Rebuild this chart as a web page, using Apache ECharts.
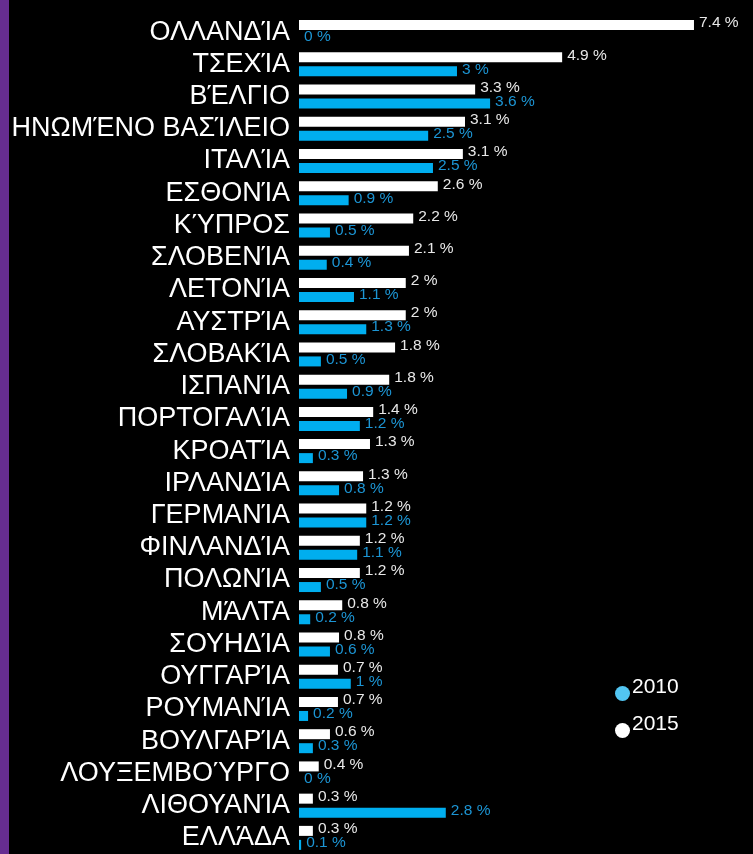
<!DOCTYPE html>
<html><head><meta charset="utf-8">
<script src="https://cdn.jsdelivr.net/npm/echarts@6/dist/echarts.min.js"></script>
<style>
html,body{margin:0;padding:0;background:#000;}
#strip{position:absolute;left:0;top:0;width:9px;height:854px;background:#662d91;z-index:2;}
#c{width:753px;height:854px;}
</style></head>
<body><div id="strip"></div><div id="c"></div>
<script>
const categories = ['ΟΛΛΑΝΔΊΑ','ΤΣΕΧΊΑ','ΒΈΛΓΙΟ','ΗΝΩΜΈΝΟ ΒΑΣΊΛΕΙΟ','ΙΤΑΛΊΑ','ΕΣΘΟΝΊΑ','ΚΎΠΡΟΣ','ΣΛΟΒΕΝΊΑ','ΛΕΤΟΝΊΑ','ΑΥΣΤΡΊΑ','ΣΛΟΒΑΚΊΑ','ΙΣΠΑΝΊΑ','ΠΟΡΤΟΓΑΛΊΑ','ΚΡΟΑΤΊΑ','ΙΡΛΑΝΔΊΑ','ΓΕΡΜΑΝΊΑ','ΦΙΝΛΑΝΔΊΑ','ΠΟΛΩΝΊΑ','ΜΆΛΤΑ','ΣΟΥΗΔΊΑ','ΟΥΓΓΑΡΊΑ','ΡΟΥΜΑΝΊΑ','ΒΟΥΛΓΑΡΊΑ','ΛΟΥΞΕΜΒΟΎΡΓΟ','ΛΙΘΟΥΑΝΊΑ','ΕΛΛΆΔΑ'];
// bar lengths
const values2015 = [7.40,4.93,3.30,3.11,3.07,2.60,2.14,2.06,2.00,2.00,1.80,1.69,1.39,1.33,1.20,1.26,1.14,1.14,0.81,0.75,0.73,0.73,0.58,0.37,0.26,0.26];
const values2010 = [0,2.96,3.58,2.42,2.51,0.93,0.58,0.52,1.03,1.26,0.41,0.90,1.14,0.26,0.75,1.26,1.09,0.41,0.21,0.58,0.97,0.17,0.26,0,2.75,0.04];
// printed labels
const labels2015 = ['7.4','4.9','3.3','3.1','3.1','2.6','2.2','2.1','2','2','1.8','1.8','1.4','1.3','1.3','1.2','1.2','1.2','0.8','0.8','0.7','0.7','0.6','0.4','0.3','0.3'];
const labels2010 = ['0','3','3.6','2.5','2.5','0.9','0.5','0.4','1.1','1.3','0.5','0.9','1.2','0.3','0.8','1.2','1.1','0.5','0.2','0.6','1','0.2','0.3','0','2.8','0.1'];

const chart = echarts.init(document.getElementById('c'), null, {renderer:'canvas'});
const font = 'Liberation Sans, Arial, sans-serif';
chart.setOption({
  backgroundColor:'#000',
  animation:false,
  grid:{left:299, top:16, width:427, height:845, containLabel:false},
  xAxis:{type:'value', min:0, max:8, show:false},
  yAxis:{type:'category', data:categories, inverse:true,
    axisLine:{show:false}, axisTick:{show:false}, splitLine:{show:false},
    axisLabel:{color:'#fff', fontSize:27, fontFamily:font, margin:9, interval:0}},
  legend:{orient:'vertical', left:615, top:677, padding:0, itemWidth:15, itemHeight:15, itemGap:13, icon:'circle',
    formatter:n=>'{t|'+n+'}',
    textStyle:{color:'#fff', fontSize:21, fontFamily:font,
      rich:{t:{color:'#fff', fontSize:21, fontFamily:font, padding:[0,0,12,-3]}}},
    data:[{name:'2010', itemStyle:{color:'#52c5f2'}},{name:'2015', itemStyle:{color:'#fff'}}]},
  series:[
    {name:'2015', type:'bar', data:values2015, barWidth:10, barGap:'40%',
     itemStyle:{color:'#fff'},
     label:{show:true, position:'right', distance:5, offset:[0,-2], color:'#e8e8e8', fontSize:15.5, fontFamily:font,
       formatter:p=>labels2015[p.dataIndex]+' %'}},
    {name:'2010', type:'bar', data:values2010, barWidth:10, barGap:'40%',
     itemStyle:{color:'#00aeef'},
     label:{show:true, position:'right', distance:5, offset:[0,-2], color:'#1c95d4', fontSize:15.5, fontFamily:font,
       formatter:p=>labels2010[p.dataIndex]+' %'}}
  ]
});
</script></body></html>
